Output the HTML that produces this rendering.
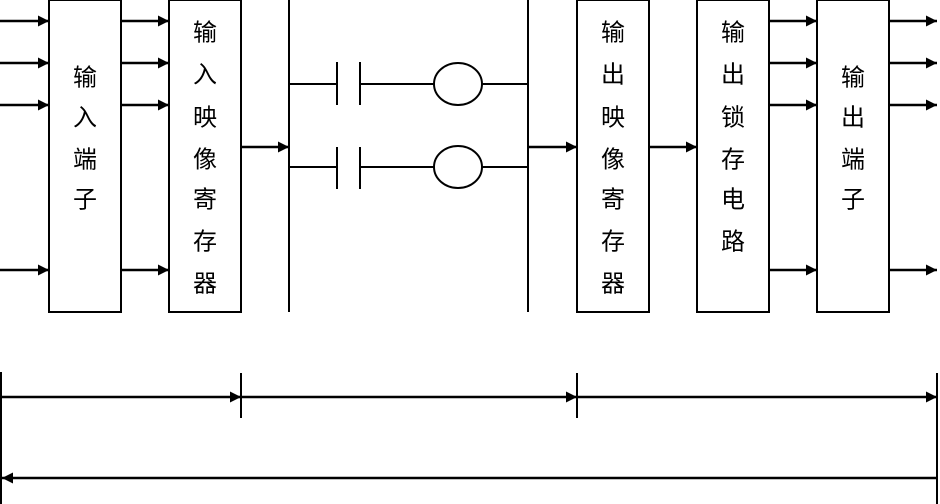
<!DOCTYPE html>
<html><head><meta charset="utf-8"><style>
html,body{margin:0;padding:0;background:#fff;width:940px;height:504px;overflow:hidden}
text{font-family:"Liberation Sans","Noto Sans CJK SC",sans-serif;font-size:24px;fill:#000;text-anchor:middle;dominant-baseline:central}
</style></head><body>
<svg width="940" height="504" viewBox="0 0 940 504" xmlns="http://www.w3.org/2000/svg">
<defs><marker id="a" viewBox="0 0 10 10" refX="10" refY="5" markerWidth="11" markerHeight="11" markerUnits="userSpaceOnUse" orient="auto"><path d="M0,0L10,5L0,10z" fill="#000"/></marker></defs>
<g stroke="#000" stroke-width="2" fill="none">
<rect x="49" y="0" width="72" height="312"/>
<rect x="169" y="0" width="72" height="312"/>
<rect x="577" y="0" width="72" height="312"/>
<rect x="697" y="0" width="72" height="312"/>
<rect x="817" y="0" width="72" height="312"/>
<line x1="289" y1="0" x2="289" y2="312"/>
<line x1="528" y1="0" x2="528" y2="312"/>
<g marker-end="url(#a)" stroke-width="2.5">
<line x1="0" y1="21" x2="49" y2="21"/><line x1="0" y1="63" x2="49" y2="63"/><line x1="0" y1="105" x2="49" y2="105"/><line x1="0" y1="270" x2="49" y2="270"/>
<line x1="122" y1="21" x2="169" y2="21"/><line x1="122" y1="63" x2="169" y2="63"/><line x1="122" y1="105" x2="169" y2="105"/><line x1="122" y1="270" x2="169" y2="270"/>
<line x1="242" y1="147" x2="289" y2="147"/>
<line x1="529" y1="147" x2="577" y2="147"/>
<line x1="650" y1="147" x2="697" y2="147"/>
<line x1="770" y1="21" x2="817" y2="21"/><line x1="770" y1="63" x2="817" y2="63"/><line x1="770" y1="105" x2="817" y2="105"/><line x1="770" y1="270" x2="817" y2="270"/>
<line x1="890" y1="21" x2="937" y2="21"/><line x1="890" y1="63" x2="937" y2="63"/><line x1="890" y1="105" x2="937" y2="105"/><line x1="890" y1="270" x2="937" y2="270"/>
<line x1="2" y1="397" x2="241" y2="397"/><line x1="242" y1="397" x2="577" y2="397"/><line x1="578" y1="397" x2="937" y2="397"/>
<line x1="937" y1="478" x2="2" y2="478"/>
</g>
<path d="M289 84H337M337 62V105M360 62V105M360 84H434M482 84H528"/>
<path d="M289 167H337M337 147V189M360 147V189M360 167H434M482 167H528"/>
<ellipse cx="458" cy="84" rx="24" ry="21"/>
<ellipse cx="458" cy="167" rx="24" ry="21"/>
<line x1="1" y1="372" x2="1" y2="504"/>
<line x1="241" y1="373" x2="241" y2="418"/>
<line x1="577" y1="373" x2="577" y2="418"/>
<line x1="937" y1="373" x2="937" y2="504"/>
</g>
<g>
<text x="85" y="78">输</text><text x="85" y="118">入</text><text x="85" y="160">端</text><text x="85" y="200">子</text>
<text x="205" y="33">输</text><text x="205" y="75">入</text><text x="205" y="118">映</text><text x="205" y="160">像</text><text x="205" y="200">寄</text><text x="205" y="242">存</text><text x="205" y="284">器</text>
<text x="613" y="33">输</text><text x="613" y="75">出</text><text x="613" y="118">映</text><text x="613" y="160">像</text><text x="613" y="200">寄</text><text x="613" y="242">存</text><text x="613" y="284">器</text>
<text x="733" y="33">输</text><text x="733" y="75">出</text><text x="733" y="118">锁</text><text x="733" y="160">存</text><text x="733" y="200">电</text><text x="733" y="242">路</text>
<text x="853" y="78">输</text><text x="853" y="118">出</text><text x="853" y="160">端</text><text x="853" y="200">子</text>
</g>
</svg>
</body></html>
